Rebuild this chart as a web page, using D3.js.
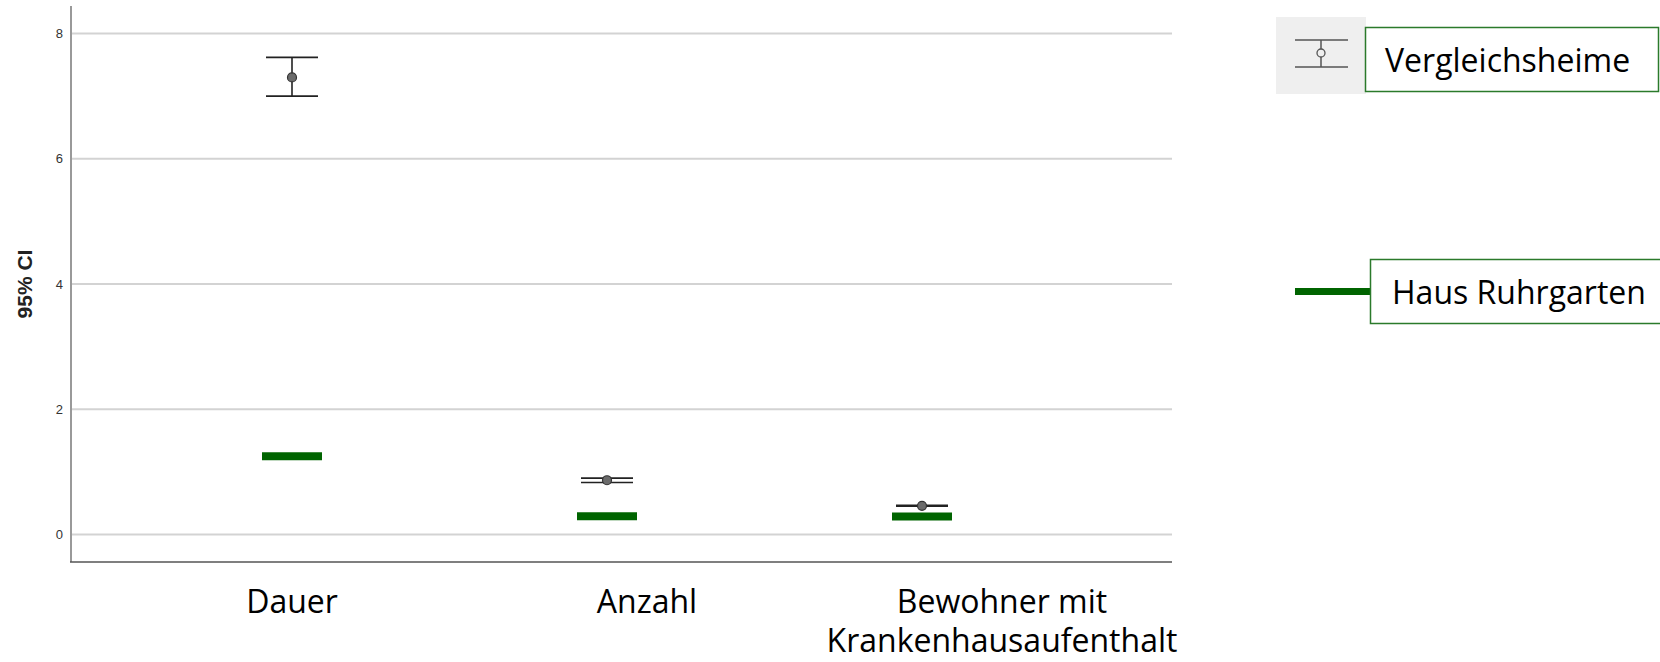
<!DOCTYPE html>
<html>
<head>
<meta charset="utf-8">
<script src="https://cdn.jsdelivr.net/npm/d3@7"></script>
<style>
  html, body { margin: 0; padding: 0; background: #fff; }
  svg { display: block; }
</style>
</head>
<body>
<svg id="chart" width="1660" height="662"></svg>
<script>
// Categories and values
const categories = ["Dauer", "Anzahl", "Bewohner mit Krankenhausaufenthalt"];
const categoryLines = [["Dauer"], ["Anzahl"], ["Bewohner mit", "Krankenhausaufenthalt"]];
const ciLower = [7.00, 0.83, 0.45];
const ciMean = [7.30, 0.866, 0.457];
const ciUpper = [7.62, 0.90, 0.465];
const hausRuhrgarten = [1.25, 0.29, 0.285];
const yTicks = [0, 2, 4, 6, 8];
const legendLabels = ["Vergleichsheime", "Haus Ruhrgarten"];

const svg = d3.select("#chart");
const green = "#006400";
const boxGreen = "#2b7a2b";

const plot = { left: 71, right: 1172, top: 6, bottom: 562 };

const y = d3.scaleLinear().domain([-0.44, 8.44]).range([plot.bottom, plot.top]);
const x = d3.scalePoint().domain(categories).range([292, 922]);
const xLabel = d3.scalePoint().domain(categories).range([292, 1002]);

// gridlines
svg.append("g").selectAll("line").data(yTicks).join("line")
  .attr("x1", plot.left).attr("x2", plot.right)
  .attr("y1", d => y(d)).attr("y2", d => y(d))
  .attr("stroke", "#d3d3d3").attr("stroke-width", 2);

// y axis (labels only, no tick marks)
const yAxis = svg.append("g")
  .attr("transform", `translate(${plot.left},0)`)
  .call(d3.axisLeft(y).tickValues(yTicks).tickSize(0).tickPadding(8).tickFormat(d3.format("d")));
yAxis.select(".domain").remove();
yAxis.selectAll("text")
  .attr("font-family", "Liberation Sans, Arial, sans-serif")
  .attr("font-size", 13).attr("fill", "#333");

// axis lines
svg.append("line").attr("x1", plot.left).attr("x2", plot.left)
  .attr("y1", plot.top).attr("y2", plot.bottom)
  .attr("stroke", "#999").attr("stroke-width", 2);
svg.append("line").attr("x1", plot.left - 1).attr("x2", plot.right)
  .attr("y1", plot.bottom).attr("y2", plot.bottom)
  .attr("stroke", "#555").attr("stroke-width", 1.5);

// y title
svg.append("text")
  .attr("transform", `translate(32,${(plot.top + plot.bottom) / 2}) rotate(-90)`)
  .attr("text-anchor", "middle")
  .attr("font-family", "Liberation Sans, Arial, sans-serif")
  .attr("font-weight", "bold").attr("font-size", 21).attr("fill", "#222")
  .text("95% CI");

// green reference bars (Haus Ruhrgarten)
const greenW = 60;
svg.append("g").selectAll("line").data(categories).join("line")
  .attr("x1", d => x(d) - greenW / 2).attr("x2", d => x(d) + greenW / 2)
  .attr("y1", (d, i) => y(hausRuhrgarten[i])).attr("y2", (d, i) => y(hausRuhrgarten[i]))
  .attr("stroke", green).attr("stroke-width", 8);

// confidence intervals (Vergleichsheime)
const capW = 52;
const eb = svg.append("g").selectAll("g").data(categories).join("g");
eb.append("line")
  .attr("x1", d => x(d)).attr("x2", d => x(d))
  .attr("y1", (d, i) => y(ciUpper[i])).attr("y2", (d, i) => y(ciLower[i]))
  .attr("stroke", "#222").attr("stroke-width", 1.6);
eb.append("line")
  .attr("x1", d => x(d) - capW / 2).attr("x2", d => x(d) + capW / 2)
  .attr("y1", (d, i) => y(ciUpper[i])).attr("y2", (d, i) => y(ciUpper[i]))
  .attr("stroke", "#222").attr("stroke-width", 1.6);
eb.append("line")
  .attr("x1", d => x(d) - capW / 2).attr("x2", d => x(d) + capW / 2)
  .attr("y1", (d, i) => y(ciLower[i])).attr("y2", (d, i) => y(ciLower[i]))
  .attr("stroke", "#222").attr("stroke-width", 1.6);
eb.append("circle")
  .attr("cx", d => x(d)).attr("cy", (d, i) => y(ciMean[i]))
  .attr("r", 4.5).attr("fill", "#6b6b6b").attr("stroke", "#333").attr("stroke-width", 1.2);

// category labels
const catFont = "'Open Sans', sans-serif";
svg.append("g").selectAll("text").data(categories).join("text")
  .attr("x", d => xLabel(d)).attr("y", 613)
  .attr("text-anchor", "middle")
  .attr("font-family", catFont).attr("font-size", 32).attr("fill", "#000")
  .each(function (d, i) {
    const t = d3.select(this);
    categoryLines[i].forEach((line, j) => {
      t.append("tspan").attr("x", xLabel(d)).attr("dy", j === 0 ? 0 : 39).text(line);
    });
  });

// legend: Vergleichsheime
const lg = svg.append("g");
lg.append("rect").attr("x", 1276).attr("y", 17).attr("width", 90).attr("height", 77).attr("fill", "#efefef");
lg.append("line").attr("x1", 1295).attr("x2", 1348).attr("y1", 40).attr("y2", 40).attr("stroke", "#555").attr("stroke-width", 1.5);
lg.append("line").attr("x1", 1295).attr("x2", 1348).attr("y1", 67).attr("y2", 67).attr("stroke", "#555").attr("stroke-width", 1.5);
lg.append("line").attr("x1", 1321).attr("x2", 1321).attr("y1", 40).attr("y2", 67).attr("stroke", "#555").attr("stroke-width", 1.5);
lg.append("circle").attr("cx", 1321).attr("cy", 53).attr("r", 4).attr("fill", "#efefef").attr("stroke", "#555").attr("stroke-width", 1.3);
lg.append("rect").attr("x", 1365.5).attr("y", 27.5).attr("width", 293).attr("height", 64)
  .attr("fill", "#fff").attr("stroke", boxGreen).attr("stroke-width", 1.5);
lg.append("text").attr("x", 1385).attr("y", 72)
  .attr("font-family", catFont).attr("font-size", 32).attr("fill", "#000")
  .text(legendLabels[0]);

// legend: Haus Ruhrgarten
lg.append("line").attr("x1", 1295).attr("x2", 1371).attr("y1", 291.5).attr("y2", 291.5)
  .attr("stroke", green).attr("stroke-width", 7);
lg.append("rect").attr("x", 1370.5).attr("y", 259.5).attr("width", 292).attr("height", 64)
  .attr("fill", "#fff").attr("stroke", boxGreen).attr("stroke-width", 1.5);
lg.append("text").attr("x", 1392).attr("y", 304)
  .attr("font-family", catFont).attr("font-size", 32).attr("fill", "#000")
  .text(legendLabels[1]);
</script>
</body>
</html>
